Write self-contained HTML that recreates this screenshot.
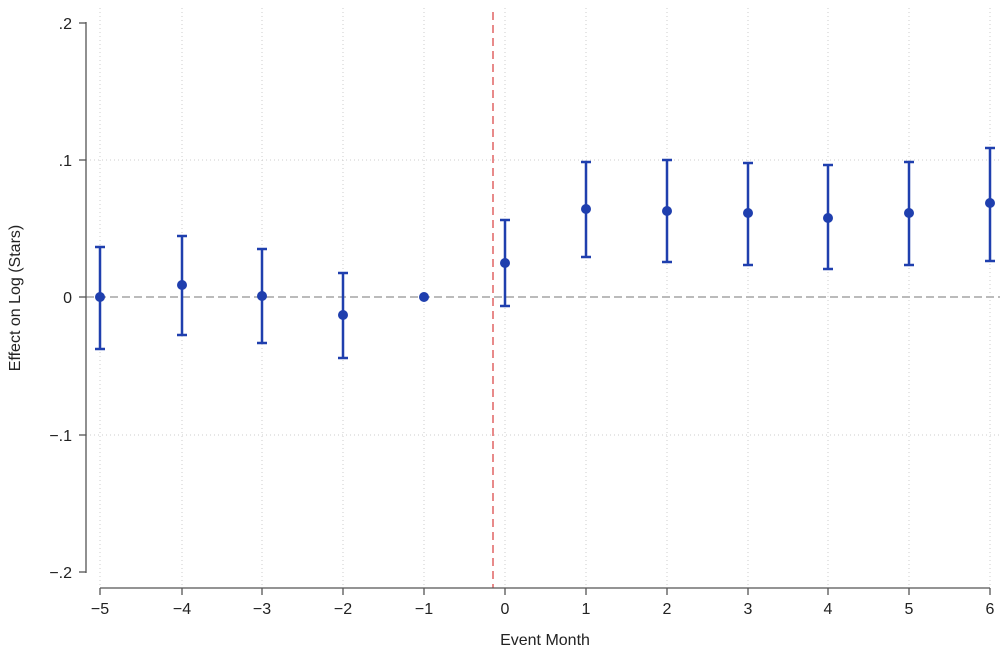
<!DOCTYPE html>
<html><head><meta charset="utf-8"><style>
html,body{margin:0;padding:0;background:#fff;}
svg{display:block;font-family:"Liberation Sans",sans-serif;}
</style></head><body>
<svg width="1000" height="653" viewBox="0 0 1000 653" xmlns="http://www.w3.org/2000/svg">
<rect width="1000" height="653" fill="#fff"/>
<g stroke="#ccc" stroke-width="1" stroke-dasharray="1,3">
<line x1="100" y1="8" x2="100" y2="588"/><line x1="182" y1="8" x2="182" y2="588"/>
<line x1="262" y1="8" x2="262" y2="588"/><line x1="343" y1="8" x2="343" y2="588"/>
<line x1="424" y1="8" x2="424" y2="588"/><line x1="505" y1="8" x2="505" y2="588"/>
<line x1="586" y1="8" x2="586" y2="588"/><line x1="667" y1="8" x2="667" y2="588"/>
<line x1="748" y1="8" x2="748" y2="588"/><line x1="828" y1="8" x2="828" y2="588"/>
<line x1="909" y1="8" x2="909" y2="588"/><line x1="990" y1="8" x2="990" y2="588"/>
<line x1="86" y1="160" x2="1000" y2="160"/>
<line x1="86" y1="435" x2="1000" y2="435"/>
</g>
<line x1="86" y1="297" x2="1000" y2="297" stroke="#bbb" stroke-width="2" stroke-dasharray="8,4"/>
<line x1="493" y1="12" x2="493" y2="588" stroke="#e88a8a" stroke-width="2" stroke-dasharray="8,5"/>
<g stroke="#555" stroke-width="1.3">
<line x1="86" y1="22" x2="86" y2="573"/>
<line x1="79" y1="23" x2="86" y2="23"/><line x1="79" y1="160" x2="86" y2="160"/>
<line x1="79" y1="297" x2="86" y2="297"/><line x1="79" y1="435" x2="86" y2="435"/>
<line x1="79" y1="572" x2="86" y2="572"/>
<line x1="100" y1="588" x2="990" y2="588"/>
<line x1="100" y1="588" x2="100" y2="595"/><line x1="182" y1="588" x2="182" y2="595"/>
<line x1="262" y1="588" x2="262" y2="595"/><line x1="343" y1="588" x2="343" y2="595"/>
<line x1="424" y1="588" x2="424" y2="595"/><line x1="505" y1="588" x2="505" y2="595"/>
<line x1="586" y1="588" x2="586" y2="595"/><line x1="667" y1="588" x2="667" y2="595"/>
<line x1="748" y1="588" x2="748" y2="595"/><line x1="828" y1="588" x2="828" y2="595"/>
<line x1="909" y1="588" x2="909" y2="595"/><line x1="990" y1="588" x2="990" y2="595"/>
</g>
<g font-size="16" fill="#222" text-anchor="end">
<text x="72" y="29">.2</text><text x="72" y="166">.1</text><text x="72" y="303">0</text>
<text x="72" y="441">−.1</text><text x="72" y="578">−.2</text>
</g>
<g font-size="16" fill="#222" text-anchor="middle">
<text x="100" y="614">−5</text><text x="182" y="614">−4</text><text x="262" y="614">−3</text>
<text x="343" y="614">−2</text><text x="424" y="614">−1</text><text x="505" y="614">0</text>
<text x="586" y="614">1</text><text x="667" y="614">2</text><text x="748" y="614">3</text>
<text x="828" y="614">4</text><text x="909" y="614">5</text><text x="990" y="614">6</text>
<text x="545" y="645">Event Month</text>
<text transform="translate(20,298) rotate(-90)">Effect on Log (Stars)</text>
</g>
<g stroke="#1f3fae" stroke-width="2.5" fill="#1f3fae">
<path d="M100 247V349M95 247H105M95 349H105"/>
<path d="M182 236V335M177 236H187M177 335H187"/>
<path d="M262 249V343M257 249H267M257 343H267"/>
<path d="M343 273V358M338 273H348M338 358H348"/>
<path d="M505 220V306M500 220H510M500 306H510"/>
<path d="M586 162V257M581 162H591M581 257H591"/>
<path d="M667 160V262M662 160H672M662 262H672"/>
<path d="M748 163V265M743 163H753M743 265H753"/>
<path d="M828 165V269M823 165H833M823 269H833"/>
<path d="M909 162V265M904 162H914M904 265H914"/>
<path d="M990 148V261M985 148H995M985 261H995"/>
</g>
<g fill="#1f3fae">
<circle cx="100" cy="297" r="5"/><circle cx="182" cy="285" r="5"/><circle cx="262" cy="296" r="5"/>
<circle cx="343" cy="315" r="5"/><circle cx="424" cy="297" r="5"/><circle cx="505" cy="263" r="5"/>
<circle cx="586" cy="209" r="5"/><circle cx="667" cy="211" r="5"/><circle cx="748" cy="213" r="5"/>
<circle cx="828" cy="218" r="5"/><circle cx="909" cy="213" r="5"/><circle cx="990" cy="203" r="5"/>
</g>
</svg>
</body></html>
